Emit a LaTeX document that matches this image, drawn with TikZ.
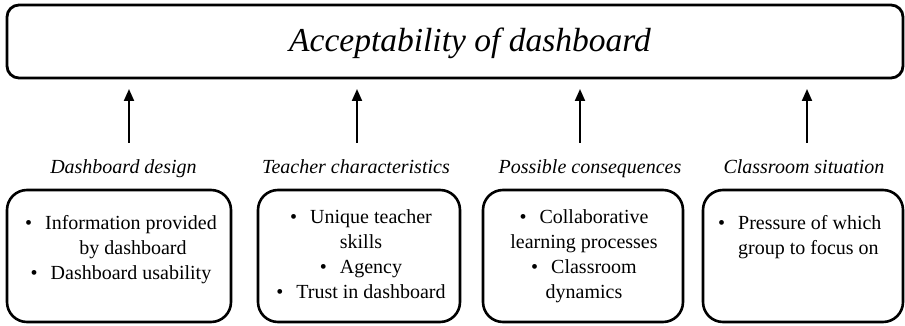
\documentclass[tikz,border=0pt]{standalone}
\usepackage{fontspec}
\setmainfont{Liberation Serif}[ItalicFont={Liberation Serif Italic}]
\usetikzlibrary{arrows.meta}
\begin{document}
\begin{tikzpicture}[x=1pt,y=-1pt,
  frame/.style={draw=black,line width=2.6pt,rounded corners=20pt,inner sep=0pt},
  titlebox/.style={draw=black,line width=2.8pt,rounded corners=12pt,inner sep=0pt,minimum width=896pt,minimum height=73pt},
  boxtext/.style={inner sep=0pt,align=center,font=\fontsize{20}{25}\selectfont},
  cat/.style={inner sep=0pt,anchor=base,font=\fontsize{20}{24}\selectfont\itshape},
  uparrow/.style={line width=2pt,-{Triangle[length=12pt,width=10pt]}}]
\useasboundingbox (0,0) rectangle (905,326);
% top box
\node[titlebox] (top) at (455,41.5) {};
\node[inner sep=0pt,anchor=base,font=\fontsize{33.5}{36}\selectfont\itshape] (title) at (470,52) {Acceptability of dashboard};
% arrows
\coordinate (a1s) at (129,143); \coordinate (a1e) at (129,89);
\coordinate (a2s) at (357,143); \coordinate (a2e) at (357,89);
\coordinate (a3s) at (580,143); \coordinate (a3e) at (580,89);
\coordinate (a4s) at (807,143); \coordinate (a4e) at (807,89);
\draw[uparrow] (a1s) -- (a1e);
\draw[uparrow] (a2s) -- (a2e);
\draw[uparrow] (a3s) -- (a3e);
\draw[uparrow] (a4s) -- (a4e);
% category labels
\node[cat] (l1) at (123.5,174) {Dashboard design};
\node[cat] (l2) at (356,174) {Teacher characteristics};
\node[cat] (l3) at (590,174) {Possible consequences};
\node[cat] (l4) at (804,174) {Classroom situation};
% boxes
\node[frame,minimum width=224pt,minimum height=132pt] (b1) at (119,256) {};
\node[frame,minimum width=202pt,minimum height=132pt] (b2) at (359,256) {};
\node[frame,minimum width=200pt,minimum height=132pt] (b3) at (583,256) {};
\node[frame,minimum width=200pt,minimum height=132pt] (b4) at (803,256) {};
% box texts
\node[boxtext,anchor=north] (t1) at (121,215) {•\hspace{0.65em}Information provided\\\hspace{1.2em}by dashboard\\•\hspace{0.65em}Dashboard usability};
\node[boxtext,anchor=north] (t2) at (361,209) {•\hspace{0.65em}Unique teacher\\skills\\•\hspace{0.65em}Agency\\•\hspace{0.65em}Trust in dashboard};
\node[boxtext,anchor=north] (t3) at (584,209) {•\hspace{0.65em}Collaborative\\learning processes\\•\hspace{0.65em}Classroom\\dynamics};
\node[boxtext,align=left,anchor=north west] (t4) at (718,215) {•\hspace{0.65em}Pressure of which\\\hspace{1.0em}group to focus on};
\end{tikzpicture}
\end{document}
